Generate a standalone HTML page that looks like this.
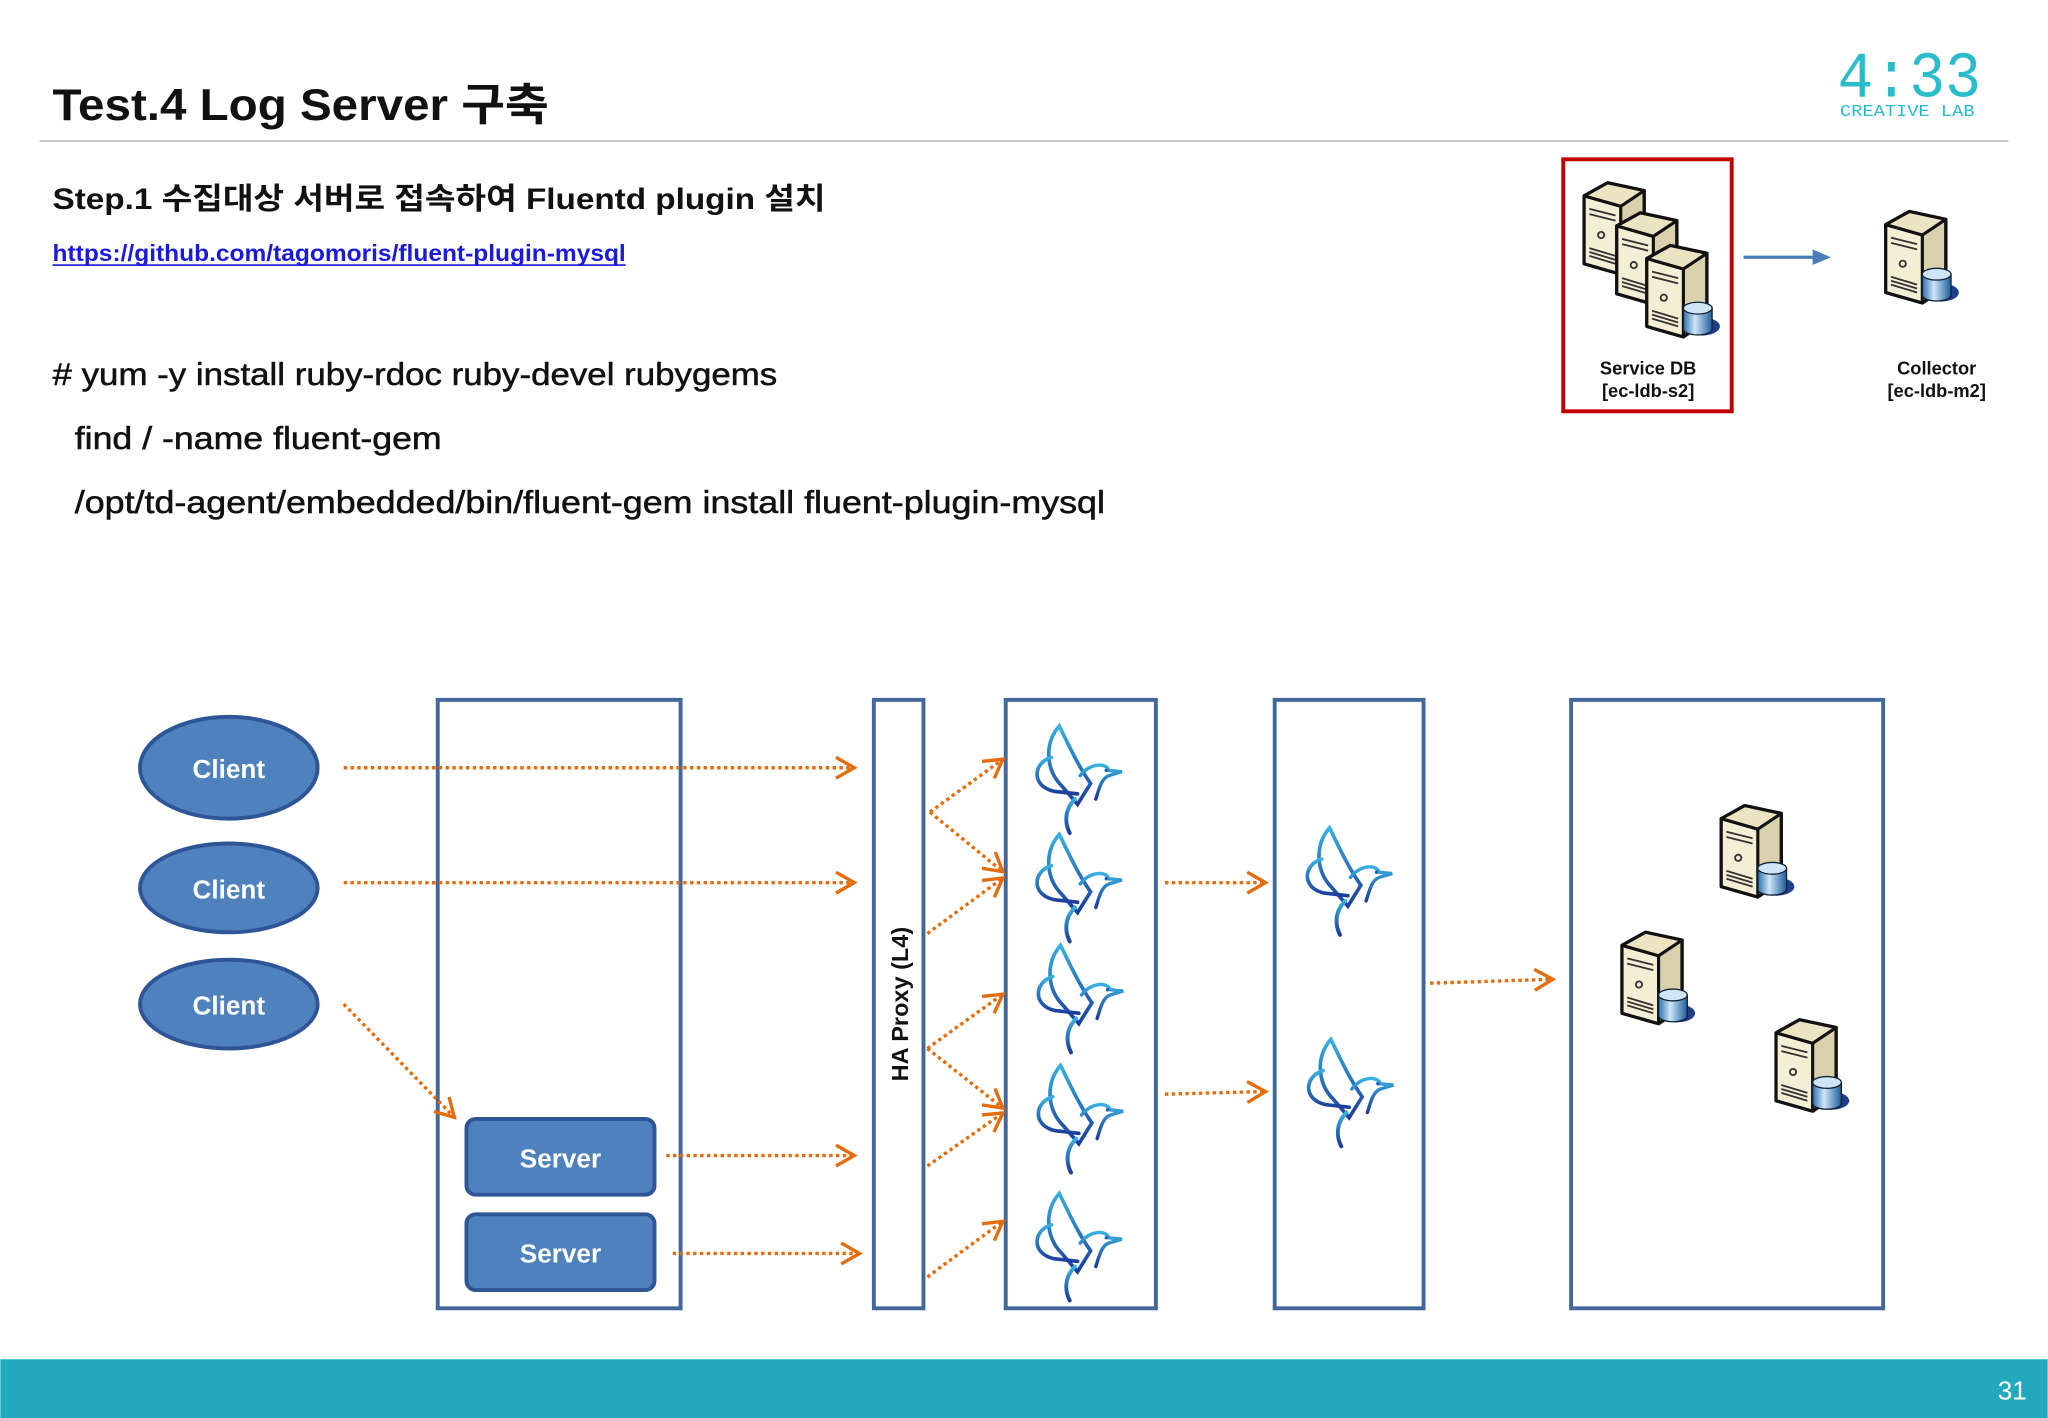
<!DOCTYPE html>
<html><head><meta charset="utf-8"><style>html,body{margin:0;padding:0;background:#fff}svg{display:block}</style></head>
<body>
<svg width="2048" height="1418" viewBox="0 0 1568 1086" xmlns="http://www.w3.org/2000/svg" font-family="'Liberation Sans','Noto Sans CJK KR',sans-serif">
<defs>
<marker id="ah" viewBox="0 0 10 10" refX="9" refY="5" markerWidth="10" markerHeight="10" orient="auto" markerUnits="userSpaceOnUse" style="overflow:visible">
<path d="M-4,-3 L10,5 L-4,13" fill="none" stroke="#e46c0a" stroke-width="2.6" stroke-dasharray="none"/>
</marker>
<linearGradient id="bg" x1="0" y1="0" x2="0" y2="1"><stop offset="0" stop-color="#38b0e0"/><stop offset="1" stop-color="#1c3c9c"/></linearGradient>
<symbol id="bird" viewBox="0 0 70 90" overflow="visible">
<g fill="none" stroke="url(#bg)" stroke-linecap="round">
<path d="M20,6 C8,20 10,40 22,52 L34,66 L44,50 C34,36 26,18 20,6 Z" stroke-width="2.8"/>
<path d="M14,30 C0,34 -2,52 16,56 L34,58" stroke-width="2.8"/>
<path d="M36,44 C44,34 56,34 58,40 L68,41 L58,44 C52,46 50,56 48,62" stroke-width="2.6"/>
<path d="M32,62 C24,70 24,80 28,88" stroke-width="3"/>
</g>
<circle cx="56" cy="40" r="1.3" fill="#1c5cb0"/>
</symbol>
<linearGradient id="beige" x1="0" y1="0" x2="1" y2="0"><stop offset="0" stop-color="#fffbe8"/><stop offset="1" stop-color="#d8d0b0"/></linearGradient>
<linearGradient id="cyl" x1="0" y1="0" x2="1" y2="0"><stop offset="0" stop-color="#2a6fb0"/><stop offset="0.4" stop-color="#cfe6f8"/><stop offset="1" stop-color="#1d5d9b"/></linearGradient>
<symbol id="srv" viewBox="0 0 60 80" overflow="visible">
<path d="M4,14 L22,4 L50,10 L50,62 L32,74 L4,66 Z" fill="#d9d0ac" stroke="#111" stroke-width="2.6" stroke-linejoin="round"/>
<path d="M4,14 L32,22 L32,74 L4,66 Z" fill="#f4eed4" stroke="#111" stroke-width="2.4" stroke-linejoin="round"/>
<path d="M4,14 L22,4 L50,10 L32,22 Z" fill="#ebe3c2" stroke="#111" stroke-width="2.4" stroke-linejoin="round"/>
<path d="M8,24 L28,29 M8,28 L28,33 M8,54 L28,60 M8,57 L28,63 M8,60 L28,66" stroke="#333" stroke-width="1.4"/>
<circle cx="17" cy="44" r="2.4" fill="none" stroke="#333" stroke-width="1.4"/>
</symbol>
<symbol id="dbs" viewBox="0 0 60 80" overflow="visible">
<use href="#srv" width="60" height="80"/>
<ellipse cx="46" cy="66" rx="14" ry="7" fill="#1f3f8a"/>
<path d="M32,52 L32,68 A11,4.5 0 0 0 54,68 L54,52 Z" fill="url(#cyl)" stroke="#123" stroke-width="1"/>
<ellipse cx="43" cy="52" rx="11" ry="4.5" fill="#cfe6f8" stroke="#123" stroke-width="1"/>
</symbol>
</defs>

<!-- header -->
<text x="40" y="92" font-size="34" font-weight="bold" textLength="380" lengthAdjust="spacingAndGlyphs" fill="#111">Test.4 Log Server 구축</text>
<line x1="30" y1="108" x2="1538" y2="108" stroke="#c8c8c8" stroke-width="1.5"/>
<text x="1407" y="74" font-size="50" font-family="'Liberation Mono',monospace" fill="#2bbccc" textLength="110" lengthAdjust="spacingAndGlyphs">4:33</text>
<text x="1409" y="89" font-size="13" font-family="'Liberation Mono',monospace" fill="#2bbccc" textLength="103" lengthAdjust="spacingAndGlyphs">CREATIVE LAB</text>

<text x="40" y="160" font-size="23" font-weight="bold" textLength="592" lengthAdjust="spacingAndGlyphs" fill="#111">Step.1 수집대상 서버로 접속하여 Fluentd plugin 설치</text>
<text x="40" y="200" font-size="18" font-weight="bold" textLength="439" lengthAdjust="spacingAndGlyphs" fill="#1a1adc">https://github.com/tagomoris/fluent-plugin-mysql</text>
<line x1="40" y1="203" x2="479" y2="203" stroke="#1a1adc" stroke-width="1.3"/>
<text x="40" y="295" font-size="24" textLength="555" lengthAdjust="spacingAndGlyphs" fill="#111" stroke="#111" stroke-width="0.4">#  yum -y install ruby-rdoc ruby-devel rubygems</text>
<text x="57" y="344" font-size="24" textLength="281" lengthAdjust="spacingAndGlyphs" fill="#111" stroke="#111" stroke-width="0.4">find / -name fluent-gem</text>
<text x="57" y="393" font-size="24" textLength="789" lengthAdjust="spacingAndGlyphs" fill="#111" stroke="#111" stroke-width="0.4">/opt/td-agent/embedded/bin/fluent-gem install fluent-plugin-mysql</text>

<!-- top right mini diagram -->
<rect x="1197" y="122" width="129" height="193" fill="none" stroke="#c00000" stroke-width="3"/>
<use href="#srv" x="1209" y="136" width="60" height="80"/>
<use href="#srv" x="1234" y="159" width="60" height="80"/>
<use href="#dbs" x="1257" y="184" width="60" height="80"/>
<line x1="1335" y1="197" x2="1390" y2="197" stroke="#4a7ebb" stroke-width="2.5"/>
<path d="M1388,191 L1402,197 L1388,203 Z" fill="#4a7ebb"/>
<use href="#dbs" x="1440" y="158" width="60" height="80"/>
<g font-size="14" font-weight="bold" fill="#111" text-anchor="middle">
<text x="1262" y="287">Service DB</text><text x="1262" y="304">[ec-ldb-s2]</text>
<text x="1483" y="287">Collector</text><text x="1483" y="304">[ec-ldb-m2]</text>
</g>

<!-- diagram boxes -->
<g fill="#fff" stroke="#41679b" stroke-width="3">
<rect x="335" y="536" width="186" height="466"/>
<rect x="669" y="536" width="38" height="466"/>
<rect x="770" y="536" width="115" height="466"/>
<rect x="976" y="536" width="114" height="466"/>
<rect x="1203" y="536" width="239" height="466"/>
</g>
<text transform="translate(695,769) rotate(-90)" font-size="18" font-weight="bold" text-anchor="middle" fill="#111">HA Proxy (L4)</text>

<!-- clients -->
<g fill="#4f81bd" stroke="#2e5596" stroke-width="3">
<ellipse cx="175" cy="588" rx="68" ry="39"/>
<ellipse cx="175" cy="680" rx="68" ry="34"/>
<ellipse cx="175" cy="769" rx="68" ry="34"/>
<rect x="357" y="857" width="144" height="58" rx="7"/>
<rect x="357" y="930" width="144" height="58" rx="7"/>
</g>
<g fill="#fff" font-size="20" font-weight="bold" text-anchor="middle">
<text x="175" y="596">Client</text><text x="175" y="688">Client</text><text x="175" y="777">Client</text>
<text x="429" y="894">Server</text><text x="429" y="967">Server</text>
</g>

<!-- arrows -->
<g stroke="#e46c0a" stroke-width="2.6" stroke-dasharray="2.6 2.6" fill="none" marker-end="url(#ah)">
<line x1="263" y1="588" x2="653" y2="588"/>
<line x1="263" y1="676" x2="653" y2="676"/>
<line x1="263" y1="769" x2="347" y2="855"/>
<line x1="510" y1="885" x2="653" y2="885"/>
<line x1="515" y1="960" x2="657" y2="960"/>
<line x1="712" y1="622" x2="767" y2="582"/>
<line x1="712" y1="622" x2="767" y2="667"/>
<line x1="710" y1="715" x2="767" y2="673"/>
<line x1="710" y1="803" x2="767" y2="762"/>
<line x1="710" y1="803" x2="767" y2="848"/>
<line x1="710" y1="893" x2="767" y2="853"/>
<line x1="710" y1="978" x2="767" y2="936"/>
<line x1="892" y1="676" x2="968" y2="676"/>
<line x1="892" y1="838" x2="968" y2="836"/>
<line x1="1095" y1="753" x2="1188" y2="750"/>
</g>

<!-- birds -->
<use href="#bird" x="791" y="550" width="70" height="90"/>
<use href="#bird" x="791" y="633" width="70" height="90"/>
<use href="#bird" x="792" y="718" width="70" height="90"/>
<use href="#bird" x="792" y="810" width="70" height="90"/>
<use href="#bird" x="791" y="908" width="70" height="90"/>
<use href="#bird" x="998" y="628" width="70" height="90"/>
<use href="#bird" x="999" y="790" width="70" height="90"/>

<!-- db servers -->
<use href="#dbs" x="1314" y="613" width="60" height="80"/>
<use href="#dbs" x="1238" y="710" width="60" height="80"/>
<use href="#dbs" x="1356" y="777" width="60" height="80"/>

<!-- footer -->
<rect x="0" y="1041" width="1568" height="45" fill="#22a9bd"/>
<text x="1552" y="1072" font-size="20" fill="#fff" text-anchor="end">31</text>
</svg>
</body></html>
